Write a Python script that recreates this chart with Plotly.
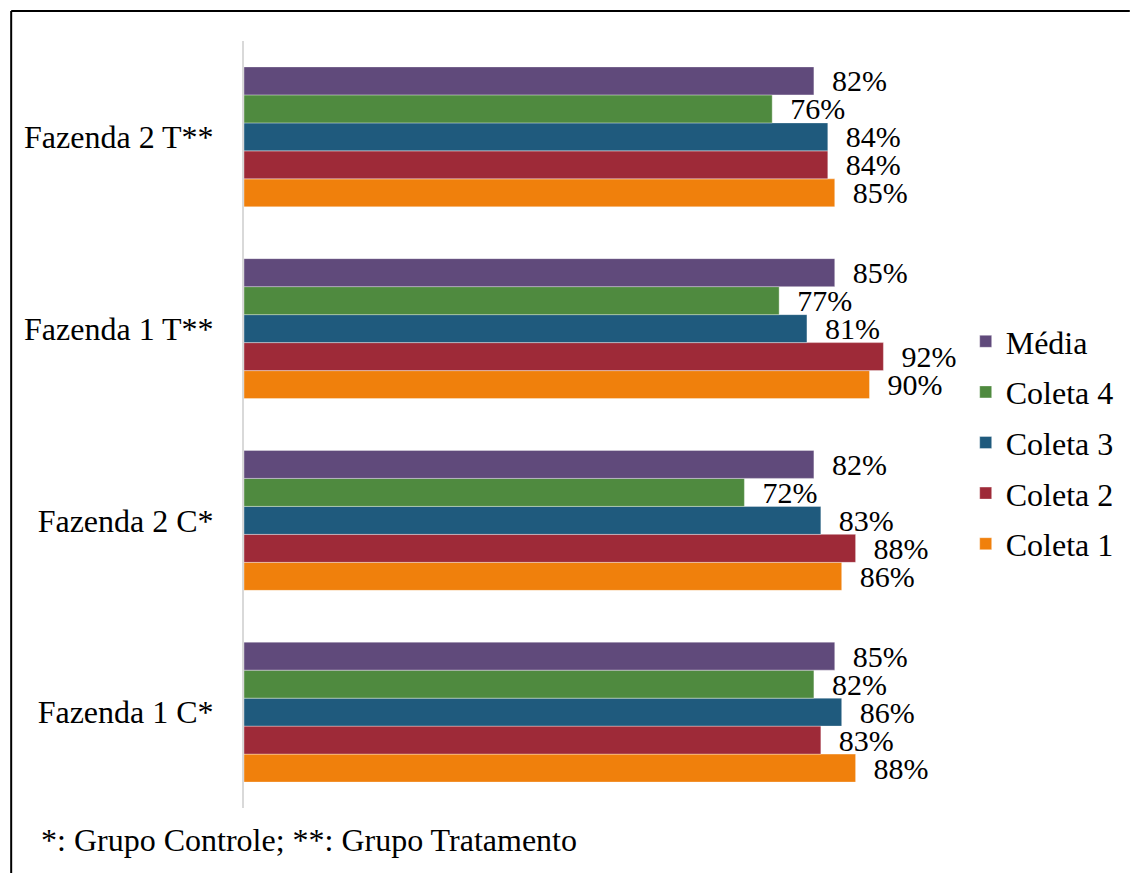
import plotly.graph_objects as go

categories = ["Fazenda 1 C*", "Fazenda 2 C*", "Fazenda 1 T**", "Fazenda 2 T**"]
coleta1 = [88, 86, 90, 85]
coleta2 = [83, 88, 92, 84]
coleta3 = [86, 83, 81, 84]
coleta4 = [82, 72, 77, 76]
media = [85, 82, 85, 82]

series_names = ["Coleta 1", "Coleta 2", "Coleta 3", "Coleta 4", "Média"]
series_values = [coleta1, coleta2, coleta3, coleta4, media]
series_colors = ["#F0800C", "#9E2A38", "#1F5A7D", "#4F8A3F", "#604A7B"]
footnote = "*: Grupo Controle; **: Grupo Tratamento"

FONT = "Liberation Serif, Times New Roman, serif"
FS = 32
FS_LABEL = 30

W, H = 1131, 873
L, R, T, B = 244, 947, 41, 808

fig = go.Figure()
n = len(series_names)
for i, (name, vals, col) in enumerate(zip(series_names, series_values, series_colors)):
    fig.add_trace(go.Bar(
        y=categories, x=vals, name=name, orientation="h",
        marker=dict(color=col, line=dict(color="rgba(255,255,255,0.6)", width=0.6)),
        texttemplate="\u00a0\u00a0%{x:.0f}%", textposition="outside",
        textfont=dict(family=FONT, size=FS_LABEL, color="black"),
        constraintext="none", cliponaxis=False,
        legendgroup=name, legendrank=(n - i) * 100,
    ))

def px_x(p):
    return (p - L) / (R - L)

def px_y(p):
    return (B - p) / (B - T)

fig.update_layout(
    width=W, height=H,
    margin=dict(l=L, r=W - R, t=T, b=H - B, pad=0),
    paper_bgcolor="white", plot_bgcolor="white",
    barmode="group", bargap=0.27, bargroupgap=0,
    font=dict(family=FONT, size=FS, color="black"),
    showlegend=True,
    legend=dict(
        traceorder="grouped", x=px_x(974), y=px_y(314), xanchor="left", yanchor="top",
        font=dict(family=FONT, size=FS, color="black"),
        tracegroupgap=6, itemwidth=30, bgcolor="rgba(0,0,0,0)",
    ),
    xaxis=dict(range=[0, 100], visible=False, showgrid=False, zeroline=False),
    yaxis=dict(
        showline=True, linecolor="#D9D9D9", linewidth=2,
        ticks="outside", ticklen=22, tickcolor="rgba(0,0,0,0)",
        tickfont=dict(family=FONT, size=FS, color="black"),
        showgrid=False, zeroline=False,
    ),
    shapes=[
        dict(type="line", xref="paper", yref="paper", x0=px_x(8.5), x1=px_x(1140),
             y0=px_y(11), y1=px_y(11), line=dict(color="black", width=2)),
        dict(type="line", xref="paper", yref="paper", x0=px_x(8.5), x1=px_x(8.5),
             y0=px_y(11), y1=px_y(880), line=dict(color="black", width=2)),
    ],
    annotations=[
        dict(text=footnote, xref="paper", yref="paper", x=px_x(37), y=px_y(840),
             xanchor="left", yanchor="middle", showarrow=False,
             font=dict(family=FONT, size=FS, color="black")),
    ],
)

fig.write_html("out.html")
